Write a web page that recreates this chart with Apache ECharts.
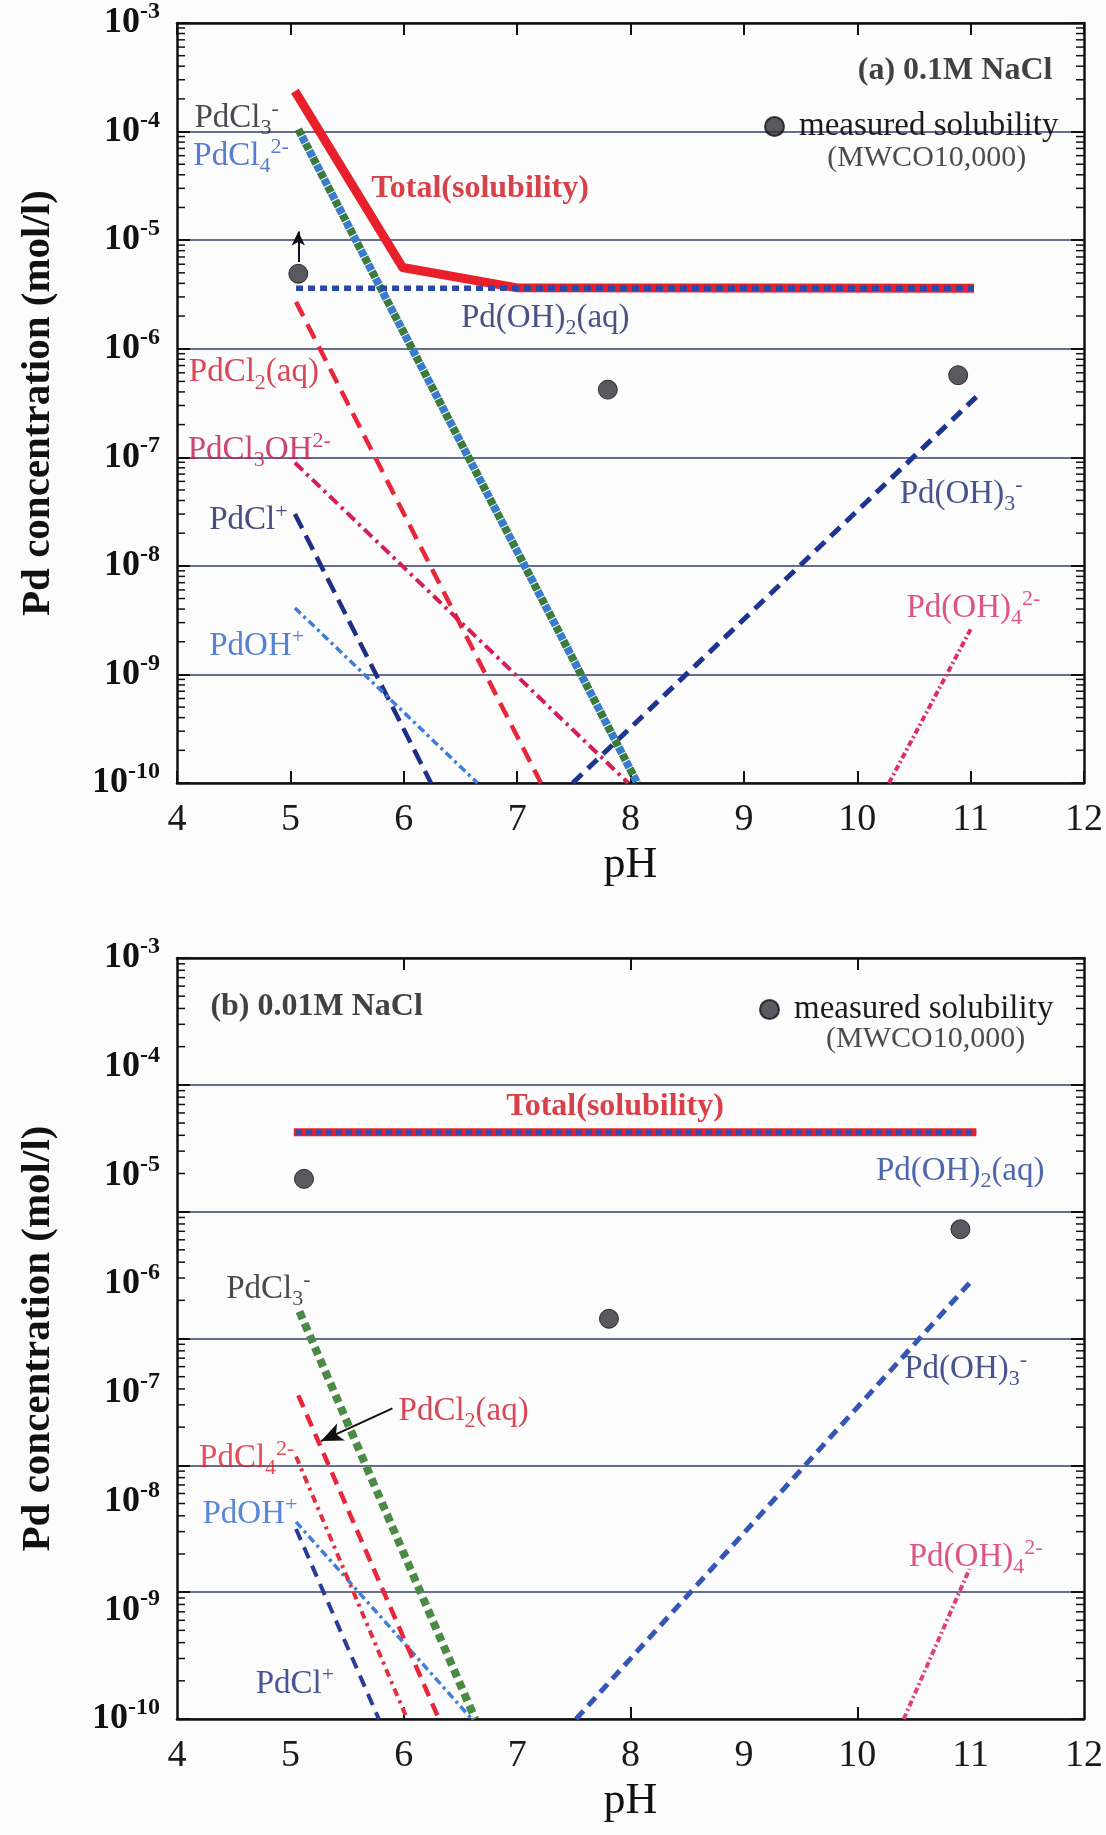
<!DOCTYPE html>
<html><head><meta charset="utf-8">
<script src="https://cdn.jsdelivr.net/npm/echarts@6/dist/echarts.min.js"></script>
<style>html,body{margin:0;padding:0;background:#fcfcfd}#c{width:1106px;height:1835px}</style>
</head><body><div id="c"></div>
<script>
// ---------- Panel (a) 0.1M NaCl : [pH, concentration mol/l] ----------
const a_total    = [[5.04,2.36e-4],[5.99,5.6e-6],[6.99,3.65e-6],[11.03,3.6e-6]];
const a_PdOH2    = [[5.05,3.6e-6],[11.03,3.6e-6]];
const a_PdCl3    = [[5.07,1.05e-4],[8.06,1e-10]];
const a_PdCl4    = [[5.07,1.05e-4],[8.06,1e-10]];
const a_PdCl2    = [[5.05,2.7e-6],[7.21,1e-10]];
const a_PdCl3OH  = [[5.04,8.9e-8],[7.98,1e-10]];
const a_PdCl     = [[5.04,3.0e-8],[6.24,1e-10]];
const a_PdOH     = [[5.04,4.1e-9],[6.65,1e-10]];
const a_PdOH3    = [[7.49,1e-10],[11.05,3.6e-7]];
const a_PdOH4    = [[10.28,1e-10],[11.0,2.6e-9]];
const a_measured = [[5.07,4.9e-6],[7.80,4.2e-7],[10.89,5.7e-7]];
const a_arrow    = [[5.07,6.3e-6],[5.07,1.2e-5]];

// ---------- Panel (b) 0.01M NaCl ----------
const b_total    = [[5.03,2.5e-5],[11.05,2.5e-5]];
const b_PdOH2    = [[5.05,2.5e-5],[11.05,2.5e-5]];
const b_PdCl3    = [[5.08,5.6e-7],[6.63,1e-10]];
const b_PdCl2    = [[5.07,9.5e-8],[6.31,1e-10]];
const b_PdCl4    = [[5.05,2.6e-8],[6.03,1e-10]];
const b_PdOH     = [[5.05,6.5e-9],[6.60,1e-10]];
const b_PdCl     = [[5.05,5.6e-9],[5.78,1e-10]];
const b_PdOH3    = [[7.52,1e-10],[11.0,1.05e-6]];
const b_PdOH4    = [[10.41,1e-10],[10.99,2.4e-9]];
const b_measured = [[5.12,9.3e-6],[7.81,4.8e-7],[10.91,3.2e-6]];
const b_arrow    = [[5.90,7.2e-8],[5.27,3.6e-8]];

// ---------- annotation texts [pH, conc, text, colour] ----------
const a_labels = [
  [4.15,1.32e-4,'PdCl{sub|3}{sup|-}','#1d1d22'],
  [4.14,5.9e-5,'PdCl{sub|4}{sup|2-}','#2a5cc4'],
  [5.71,2.95e-5,'{bold|Total(solubility)}','#d0101c'],
  [6.50,1.9e-6,'Pd(OH){sub|2}(aq)','#1c2566'],
  [4.10,6.0e-7,'PdCl{sub|2}(aq)','#d0182a'],
  [4.09,1.17e-7,'PdCl{sub|3}OH{sup|2-}','#c2164c'],
  [4.28,2.6e-8,'PdCl{sup|+}','#1c2260'],
  [4.28,1.8e-9,'PdOH{sup|+}','#2d62c8'],
  [10.37,4.6e-8,'Pd(OH){sub|3}{sup|-}','#1c2870'],
  [10.43,4.1e-9,'Pd(OH){sub|4}{sup|2-}','#d42a60'],
  [10.0,3.6e-4,'{bold|(a) 0.1M NaCl}','#111111'],
  [9.73,5.75e-5,'{small|(MWCO10,000)}','#1d1d22']
];
const b_labels = [
  [4.29,3.55e-4,'{bold|(b) 0.01M NaCl}','#111111'],
  [9.72,1.78e-4,'{small|(MWCO10,000)}','#1d1d22'],
  [6.90,4.3e-5,'{bold|Total(solubility)}','#d0101c'],
  [10.16,1.1e-5,'Pd(OH){sub|2}(aq)','#23409a'],
  [4.43,8.9e-7,'PdCl{sub|3}{sup|-}','#1d1d22'],
  [10.41,1.66e-7,'Pd(OH){sub|3}{sup|-}','#1c2870'],
  [5.95,6.8e-8,'PdCl{sub|2}(aq)','#d0182a'],
  [4.19,2.5e-8,'PdCl{sub|4}{sup|2-}','#e0202e'],
  [4.22,7.6e-9,'PdOH{sup|+}','#2f6ad0'],
  [4.69,2.1e-10,'PdCl{sup|+}','#1c2a80'],
  [10.45,3.1e-9,'Pd(OH){sub|4}{sup|2-}','#d42a60']
];

const FONT = "'Liberation Serif', 'Times New Roman', serif";
const BLACK = '#111';
const rich = {
  sub:   {fontFamily: FONT, fontSize: 22, lineHeight: 22, padding: [20,0,0,0], verticalAlign: 'middle'},
  sup:   {fontFamily: FONT, fontSize: 22, lineHeight: 22, padding: [0,0,18,0], verticalAlign: 'middle'},
  bold:  {fontFamily: FONT, fontSize: 32, fontWeight: 'bold', lineHeight: 44, verticalAlign: 'middle'},
  small: {fontFamily: FONT, fontSize: 30, lineHeight: 44, verticalAlign: 'middle'}
};

function line(data, xi, yi, color, width, type, extra) {
  return Object.assign({
    type: 'line', data: data, xAxisIndex: xi, yAxisIndex: yi, symbol: 'none',
    silent: true, z: 3,
    lineStyle: {color: color, width: width, type: type, cap: 'butt', join: 'round'}
  }, extra || {});
}
function labels(items, xi, yi) {
  return {
    type: 'scatter', xAxisIndex: xi, yAxisIndex: yi, symbolSize: 1, silent: true, z: 10,
    itemStyle: {color: 'rgba(0,0,0,0)'},
    data: items.map(function (it) {
      return {value: [it[0], it[1]], label: {show: true, position: 'right', distance: 0,
        formatter: it[2], color: it[3], fontFamily: FONT, fontSize: 33, lineHeight: 44, rich: rich}};
    })
  };
}
function arrowMark(pts, size) {
  return {silent: true, symbol: ['none', 'arrow'], symbolSize: size, label: {show: false},
    lineStyle: {color: BLACK, width: 2, type: 'solid'},
    data: [[{coord: pts[0]}, {coord: pts[1]}]]};
}
const minorMult = [2,3,4,5,6,7,8,9];
function minorVals(lo, hi) {
  const out = [];
  for (let e = lo; e < hi; e++) minorMult.forEach(function (m) { out.push(m * Math.pow(10, e)); });
  return out;
}
function minorTicks(xi, yi, vals) {
  return {
    type: 'custom', xAxisIndex: xi, yAxisIndex: yi, silent: true, z: 2,
    data: vals.map(function (v) { return [4, v]; }), encode: {x: 0, y: 1},
    renderItem: function (params, api) {
      const v = api.value(1);
      const pl = api.coord([4, v]), pr = api.coord([12, v]);
      return {type: 'group', children: [
        {type: 'line', shape: {x1: pl[0], y1: pl[1], x2: pl[0] + 8, y2: pl[1]}, style: {stroke: BLACK, lineWidth: 1.5}},
        {type: 'line', shape: {x1: pr[0] - 8, y1: pr[1], x2: pr[0], y2: pr[1]}, style: {stroke: BLACK, lineWidth: 1.5}}
      ]};
    }
  };
}
function expLabel(v) {
  const e = Math.round(Math.log10(v));
  return '{m|10}{e|' + e + '}';
}
const yLabelStyle = {
  margin: 17, formatter: expLabel, color: BLACK,
  rich: {
    m: {fontFamily: FONT, fontSize: 36, fontWeight: 'bold', verticalAlign: 'middle'},
    e: {fontFamily: FONT, fontSize: 24, fontWeight: 'bold', padding: [0,0,22,0], verticalAlign: 'middle'}
  }
};
const frameLine = {show: true, lineStyle: {color: BLACK, width: 2.5}};
const majTick = {show: true, inside: true, length: 13, lineStyle: {color: BLACK, width: 2}};
const gridSplit = {show: true, lineStyle: {color: '#34406e', width: 1.5}};
const yName = {
  name: 'Pd concentration (mol/l)', nameLocation: 'middle', nameGap: 118,
  nameTextStyle: {fontFamily: FONT, fontSize: 41, fontWeight: 'bold', color: BLACK}
};
const xName = {
  name: 'pH', nameLocation: 'middle', nameGap: 60,
  nameTextStyle: {fontFamily: FONT, fontSize: 44, color: BLACK}
};
const xLab = {margin: 18, fontFamily: FONT, fontSize: 38, color: '#1a1a1a'};
const legendText = {fontFamily: FONT, fontSize: 33, color: '#1a1a1f', padding: [0,0,0,10]};

const option = {
  animation: false,
  backgroundColor: '#fcfcfd',
  textStyle: {fontFamily: FONT},
  grid: [
    {left: 177, top: 22, width: 913, height: 761},
    {left: 177, top: 958, width: 913, height: 761}
  ],
  legend: [
    {data: ['measured solubility'], left: 764, top: 110, padding: 0, itemWidth: 19, itemHeight: 19,
     icon: 'circle', selectedMode: false, textStyle: legendText},
    {data: ['measured solubility'], left: 759, top: 993, padding: 0, itemWidth: 19, itemHeight: 19,
     icon: 'circle', selectedMode: false, textStyle: legendText}
  ],
  xAxis: [
    Object.assign({gridIndex: 0, type: 'value', position: 'bottom', min: 4, max: 12, interval: 1,
      axisLine: frameLine, axisTick: Object.assign({}, majTick, {length: 12}), axisLabel: xLab, splitLine: {show: false}}, xName),
    {gridIndex: 0, type: 'value', position: 'top', min: 4, max: 12, interval: 1,
      axisLine: frameLine, axisTick: Object.assign({}, majTick, {length: 12}), axisLabel: {show: false}, splitLine: {show: false}},
    Object.assign({gridIndex: 1, type: 'value', position: 'bottom', min: 4, max: 12, interval: 1,
      axisLine: frameLine, axisTick: Object.assign({}, majTick, {length: 12, customValues: [6, 8, 10]}),
      axisLabel: xLab, splitLine: {show: false}}, xName),
    {gridIndex: 1, type: 'value', position: 'top', min: 4, max: 12, interval: 1,
      axisLine: frameLine, axisTick: Object.assign({}, majTick, {length: 12, customValues: [6, 8, 10]}),
      axisLabel: {show: false}, splitLine: {show: false}}
  ],
  yAxis: [
    Object.assign({gridIndex: 0, type: 'log', position: 'left', min: 1e-10, max: 1e-3, splitNumber: 7,
      axisLine: frameLine, axisTick: majTick, axisLabel: yLabelStyle, splitLine: gridSplit}, yName),
    {gridIndex: 0, type: 'log', position: 'right', min: 1e-10, max: 1e-3, splitNumber: 7,
      axisLine: frameLine, axisTick: majTick, axisLabel: {show: false}, splitLine: {show: false}},
    Object.assign({gridIndex: 1, type: 'log', position: 'left', min: 1e-10, max: 1e-3, splitNumber: 7,
      axisLine: frameLine, axisTick: {show: false}, axisLabel: yLabelStyle, splitLine: {show: false}}, yName),
    {gridIndex: 1, type: 'log', position: 'left', min: 1e-9, max: 1e-3, splitNumber: 6,
      axisLine: {show: false}, axisTick: majTick, axisLabel: {show: false}, splitLine: gridSplit},
    {gridIndex: 1, type: 'log', position: 'right', min: 1e-9, max: 1e-3, splitNumber: 6,
      axisLine: frameLine, axisTick: majTick, axisLabel: {show: false}, splitLine: {show: false}}
  ],
  series: [
    minorTicks(0, 0, minorVals(-10, -3)),
    minorTicks(2, 3, minorVals(-9, -3)),

    // panel (a)
    line(a_PdCl2, 0, 0, '#e8283a', 4.5, [16, 9]),
    line(a_PdCl3OH, 0, 0, '#d41e55', 4, [11, 5, 3, 5]),
    line(a_PdCl, 0, 0, '#1f2f85', 4.5, [16, 8]),
    line(a_PdOH, 0, 0, '#3d7fd6', 3.5, [8, 4, 3, 4]),
    line(a_PdOH3, 0, 0, '#1e3590', 5, [13, 8]),
    line(a_PdOH4, 0, 0, '#dc2f6a', 4, [6, 3, 2, 3]),
    line(a_PdCl3, 0, 0, '#3b7b3c', 8, [7, 9]),
    line(a_PdCl4, 0, 0, '#3a7ccc', 8, [7, 9], {lineStyle: {color: '#3a7ccc', width: 8, type: [7, 9], dashOffset: 8, cap: 'butt'}}),
    line(a_total, 0, 0, '#e8202b', 9, 'solid', {z: 4}),
    line(a_PdOH2, 0, 0, '#2a48a8', 5.5, [7, 5], {z: 5}),
    {type: 'scatter', name: 'measured solubility', data: a_measured, xAxisIndex: 0, yAxisIndex: 0,
     symbol: 'circle', symbolSize: 19, z: 6, silent: true,
     itemStyle: {color: '#2e3039', borderColor: '#111', borderWidth: 1},
     markLine: arrowMark(a_arrow, [10, 14])},
    labels(a_labels, 0, 0),

    // panel (b)
    line(b_PdCl, 2, 2, '#2a3c9a', 4, [12, 8]),
    line(b_PdOH, 2, 2, '#3f80d8', 3.5, [8, 4, 3, 4]),
    line(b_PdCl4, 2, 2, '#e0303e', 4, [8, 5, 3, 5]),
    line(b_PdCl2, 2, 2, '#e8283a', 4.5, [13, 8], {markLine: arrowMark(b_arrow, [14, 22])}),
    line(b_PdCl3, 2, 2, '#4a8a45', 8, [8, 5]),
    line(b_PdOH3, 2, 2, '#3556b5', 5, [11, 7]),
    line(b_PdOH4, 2, 2, '#e0407a', 4, [6, 3, 2, 3]),
    line(b_total, 2, 2, '#e8202b', 8, 'solid', {z: 4}),
    line(b_PdOH2, 2, 2, '#2d4fb5', 5, [6, 4], {z: 5}),
    {type: 'scatter', name: 'measured solubility', data: b_measured, xAxisIndex: 2, yAxisIndex: 2,
     symbol: 'circle', symbolSize: 19, z: 6, silent: true,
     itemStyle: {color: '#2e3039', borderColor: '#111', borderWidth: 1}},
    labels(b_labels, 2, 2)
  ]
};
const chart = echarts.init(document.getElementById('c'), null, {renderer: 'canvas'});
chart.setOption(option);
</script></body></html>
